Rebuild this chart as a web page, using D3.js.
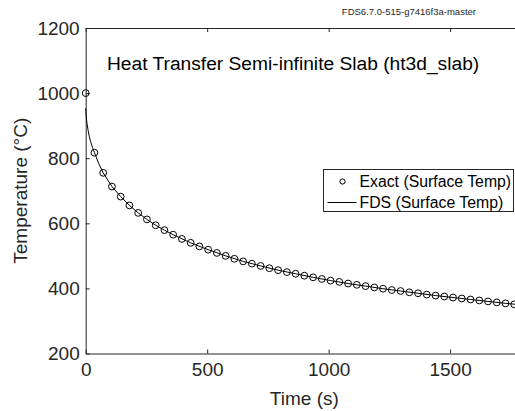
<!DOCTYPE html>
<html>
<head>
<style>
body { margin: 0; background: #fff; font-family: "Liberation Sans", Arial, sans-serif; }
svg text { font-family: "Liberation Sans", Arial, sans-serif; }
</style>
</head>
<body>
<script src="https://d3js.org/d3.v7.min.js"></script>
<script>
// exact solution markers (time s, temperature C)
var exactTime = [0,36,72,108,144,180,216,252,288,324,360,396,432,468,504,540,576,612,648,684,
  720,756,792,828,864,900,936,972,1008,1044,1080,1116,1152,1188,1224,1260,1296,1332,1368,1404,
  1440,1476,1512,1548,1584,1620,1656,1692,1728,1764];
var exactTemp = [1000,817,755,713,682,655,632,612,594,579,565,552,540,529,519,509,500,491,483,476,
  469,462,456,450,445,439,434,429,424,420,415,411,407,403,399,395,392,388,385,381,
  378,375,372,369,366,363,360,357,354,351];

// FDS line
var fdsTime = [0,2,5,10,15,20,28,36,54,72,108,144,180,216,252,288,324,360,432,504,576,648,720,792,864,936,
  1008,1080,1152,1224,1296,1368,1440,1512,1584,1656,1728,1800];
var fdsTemp = [953,930,908,885,866,852,833,817,783,755,713,682,655,632,612,594,579,565,540,519,500,483,
  469,456,445,434,424,415,407,399,392,385,378,372,366,360,354,349];

var xTicks = [0,500,1000,1500];
var yTicks = [200,400,600,800,1000,1200];
var legendLabels = ["Exact (Surface Temp)", "FDS (Surface Temp)"];

var width = 515, height = 411;
var pLeft = 85.7, pTop = 28, pRight = 523, pBottom = 353.5;
var ink = "#262626";

var x = d3.scaleLinear().domain([0,1800]).range([pLeft,pRight]);
var y = d3.scaleLinear().domain([200,1200]).range([pBottom,pTop]);

var svg = d3.select("body").append("svg")
    .attr("width", width)
    .attr("height", height);

svg.append("rect").attr("width", width).attr("height", height).attr("fill", "#fff");

// axes
var xAxis = svg.append("g")
    .attr("transform", "translate(0," + pBottom + ")")
    .call(d3.axisBottom(x).tickValues(xTicks).tickFormat(d3.format("d")).tickSizeInner(-4).tickSizeOuter(0).tickPadding(9));
var xTop = svg.append("g")
    .attr("transform", "translate(0," + pTop + ")")
    .call(d3.axisTop(x).tickValues(xTicks).tickSizeInner(-4).tickSizeOuter(0).tickFormat(""));
var yAxis = svg.append("g")
    .attr("transform", "translate(" + pLeft + ",0)")
    .call(d3.axisLeft(y).tickValues(yTicks).tickFormat(d3.format("d")).tickSizeInner(-4).tickSizeOuter(0).tickPadding(6));

[xAxis, xTop, yAxis].forEach(function(g){
  g.select(".domain").attr("stroke", ink).attr("stroke-width", 1);
  g.selectAll(".tick line").attr("stroke", ink);
  g.selectAll(".tick text").attr("fill", ink).style("font-size", "19px");
});

// watermark + title
svg.append("text").attr("x", 476).attr("y", 15).attr("text-anchor", "end")
    .style("font-size", "9.5px").attr("fill", ink).text("FDS6.7.0-515-g7416f3a-master");
svg.append("text").attr("x", 107).attr("y", 70)
    .style("font-size", "19.2px").attr("fill", "#000").text("Heat Transfer Semi-infinite Slab (ht3d_slab)");

// axis labels
svg.append("text").attr("x", (pLeft + pRight) / 2).attr("y", 405).attr("text-anchor", "middle")
    .style("font-size", "19px").attr("fill", ink).text("Time (s)");
svg.append("text").attr("transform", "translate(27," + ((pTop + pBottom) / 2) + ") rotate(-90)")
    .attr("text-anchor", "middle").style("font-size", "19px").attr("fill", ink).text("Temperature (\u00B0C)");

// FDS line
var line = d3.line().x(function(d){ return x(d[0]); }).y(function(d){ return y(d[1]); });
svg.append("path")
    .datum(d3.zip(fdsTime, fdsTemp))
    .attr("d", line)
    .attr("fill", "none")
    .attr("stroke", "#000")
    .attr("stroke-width", 1);

// exact markers
svg.selectAll("circle.exact")
    .data(d3.zip(exactTime, exactTemp))
    .enter().append("circle")
    .attr("class", "exact")
    .attr("cx", function(d){ return x(d[0]); })
    .attr("cy", function(d){ return y(d[1]); })
    .attr("r", 3.4)
    .attr("fill", "none")
    .attr("stroke", "#000")
    .attr("stroke-width", 1);

// legend
var lg = svg.append("g").attr("transform", "translate(323.5,169.5)");
lg.append("rect").attr("width", 190).attr("height", 42).attr("fill", "#fff").attr("stroke", ink).attr("stroke-width", 1);
lg.append("circle").attr("cx", 19).attr("cy", 12).attr("r", 2.6).attr("fill", "none").attr("stroke", "#000");
lg.append("line").attr("x1", 4).attr("x2", 33).attr("y1", 33).attr("y2", 33).attr("stroke", "#000");
lg.selectAll("text.lab").data(legendLabels).enter().append("text")
    .attr("class", "lab")
    .attr("x", 36)
    .attr("y", function(d, i){ return 17.5 + i * 21; })
    .style("font-size", "15.8px")
    .attr("fill", "#000")
    .text(function(d){ return d; });
</script>
</body>
</html>
